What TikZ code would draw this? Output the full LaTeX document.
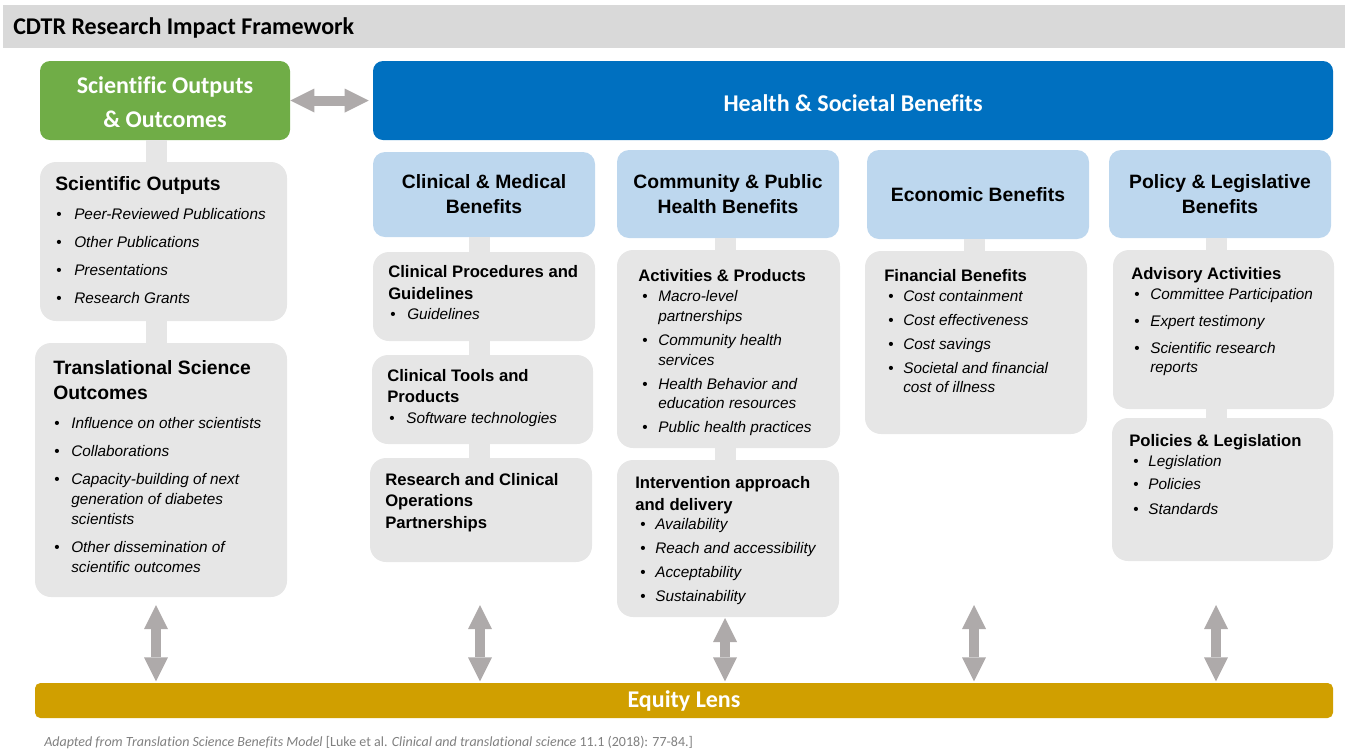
\documentclass[tikz,border=0pt]{standalone}
\usepackage{fontspec}
\setmainfont{Liberation Sans}[Ligatures=NoCommon]
\newfontfamily\calfont{Carlito}[Ligatures=NoCommon]
\usetikzlibrary{arrows.meta}
\definecolor{ttlgray}{HTML}{D9D9D9}
\definecolor{sgreen}{HTML}{70AD47}
\definecolor{hblue}{HTML}{0070C0}
\definecolor{lblue}{HTML}{BDD7EE}
\definecolor{boxgray}{HTML}{E6E6E6}
\definecolor{arw}{HTML}{AEAAAA}
\definecolor{gold}{HTML}{D09F00}
\definecolor{footgray}{HTML}{7F7F7F}
\newcounter{ln}
\newcommand\tline[4]{\stepcounter{ln}\node[tx,#1] (ln\theln) at (#2,#3) {#4};}
\newcommand\bline[4]{\stepcounter{ln}\node[tx,bul] (bu\theln) at (#1,#3) {\textbullet};\node[tx,itm] (ln\theln) at (#2,#3) {#4};}
\begin{document}
\begin{tikzpicture}[x=0.75pt,y=-0.75pt,
  bw/.style={minimum width=#1*0.75pt},
  bh/.style={minimum height=#1*0.75pt},
  gbox/.style={fill=boxgray, rounded corners=12pt, inner sep=0pt},
  lbbox/.style={fill=lblue, rounded corners=9pt, inner sep=0pt, align=center, font=\bfseries\fontsize{14.5}{18.75}\selectfont},
  bar/.style={draw=boxgray, line width=15.75pt},
  biarrow/.style={draw=arw, line width=7.5pt, arrows={Triangle[length=18pt,width=18pt,line width=0pt]-Triangle[length=18pt,width=18pt,line width=0pt]}},
  tx/.style={anchor=base west, inner sep=0pt},
  hd/.style={font=\bfseries\fontsize{14.5}{17}\selectfont},
  sh/.style={font=\bfseries\fontsize{12.5}{15}\selectfont},
  itm/.style={font=\itshape\fontsize{11.5}{14}\selectfont},
  bul/.style={font=\fontsize{11.5}{14}\selectfont},
  wtitle/.style={text=white, font=\calfont\bfseries\fontsize{18}{25.5}\selectfont, align=center}
]
\useasboundingbox (0,0) rectangle (1345,751);

% title bar
\node[fill=ttlgray, inner sep=0pt, bw=1342, bh=43, anchor=north west] (bar) at (3,5) {};
\node[anchor=west, inner sep=0pt, font=\calfont\bfseries\fontsize{18}{20}\selectfont] (title) at (13,28) {CDTR Research Impact Framework};

% column axes
\coordinate (xl) at (156.5,0);
\coordinate (xc) at (479.5,0);
\coordinate (xp) at (725,0);
\coordinate (xe) at (974.5,0);
\coordinate (xq) at (1216.5,0);

% top boxes
\node[fill=sgreen, rounded corners=7.5pt, bw=250, bh=79, inner sep=0pt] (green) at (165,100.5) {};
\node[fill=hblue, rounded corners=7.5pt, bw=960, bh=79, inner sep=0pt] (blue) at (853,100.5) {};

% column header boxes
\node[lbbox, bw=222, bh=85] (cm) at (484,194.5) {Clinical \& Medical\\Benefits};
\node[lbbox, bw=222, bh=88] (cp) at (728,194) {Community \& Public\\Health Benefits};
\node[lbbox, bw=222, bh=89] (eb) at (978,194.5) {Economic Benefits};
\node[lbbox, bw=222, bh=88] (pl) at (1220,194) {Policy \& Legislative\\Benefits};

% gray boxes
\node[gbox, bw=247, bh=159] (so) at (163.5,241.5) {};
\node[gbox, bw=252, bh=254] (tr) at (161,470) {};
\node[gbox, bw=222, bh=89] (c1) at (484,296.5) {};
\node[gbox, bw=221, bh=89] (c2) at (482.5,399.5) {};
\node[gbox, bw=222, bh=104] (c3) at (481,510) {};
\node[gbox, bw=223, bh=198] (p1) at (728.5,349) {};
\node[gbox, bw=222, bh=157] (p2) at (728,538.5) {};
\node[gbox, bw=222, bh=183] (e1) at (976,342.5) {};
\node[gbox, bw=221, bh=159] (l1) at (1223.5,329.5) {};
\node[gbox, bw=221, bh=143] (l2) at (1222.5,489.5) {};

% connector bars
\draw[bar] (green.south -| xl) -- (so.north -| xl);
\draw[bar] (so.south -| xl) -- (tr.north -| xl);
\draw[bar] (cm.south -| xc) -- (c1.north -| xc);
\draw[bar] (c1.south -| xc) -- (c2.north -| xc);
\draw[bar] (c2.south -| xc) -- (c3.north -| xc);
\draw[bar] (cp.south -| xp) -- (p1.north -| xp);
\draw[bar] (p1.south -| xp) -- (p2.north -| xp);
\draw[bar] (eb.south -| xe) -- (e1.north -| xe);
\draw[bar] (pl.south -| xq) -- (l1.north -| xq);
\draw[bar] (l1.south -| xq) -- (l2.north -| xq);

% titles in colored boxes
\node[wtitle] (gt) at (165,102) {Scientific Outputs\\\& Outcomes};
\node[wtitle] (bt) at (853,103) {Health \& Societal Benefits};

% equity lens
\node[fill=gold, rounded corners=4pt, bw=1298, bh=35, inner sep=0pt] (equity) at (684,700.5) {};
\node[wtitle] (et) at (684,701) {Equity Lens};

% arrows
\draw[biarrow, shorten >=3pt] (green.east) -- (green.east -| blue.west);
\coordinate (a1) at (156,605);
\coordinate (a2) at (480,605);
\coordinate (a3) at (725,618);
\coordinate (a4) at (974,605);
\coordinate (a5) at (1216,605);
\foreach \a in {a1,a2,a3,a4,a5}
  \draw[biarrow, shorten >=1pt] (\a) -- (\a |- equity.north);

% left column text
\tline{hd}{55}{190}{Scientific Outputs}
\bline{56}{74}{219}{Peer-Reviewed Publications}
\bline{56}{74}{247}{Other Publications}
\bline{56}{74}{275}{Presentations}
\bline{56}{74}{303}{Research Grants}

\tline{hd}{53}{374}{Translational Science}
\tline{hd}{53}{399}{Outcomes}
\bline{54}{71}{428}{Influence on other scientists}
\bline{54}{71}{456}{Collaborations}
\bline{54}{71}{484}{Capacity-building of next}
\tline{itm}{71}{504}{generation of diabetes}
\tline{itm}{71}{524}{scientists}
\bline{54}{71}{552}{Other dissemination of}
\tline{itm}{71}{572}{scientific outcomes}

% clinical column
\tline{sh}{388}{277}{Clinical Procedures and}
\tline{sh}{388}{299}{Guidelines}
\bline{390}{407}{319}{Guidelines}
\tline{sh}{387}{381}{Clinical Tools and}
\tline{sh}{387}{402}{Products}
\bline{389}{406}{423}{Software technologies}
\tline{sh}{385}{485}{Research and Clinical}
\tline{sh}{385}{506}{Operations}
\tline{sh}{385}{528}{Partnerships}

% community column
\tline{sh}{638}{281}{Activities \& Products}
\bline{642}{658}{301}{Macro-level}
\tline{itm}{658}{321}{partnerships}
\bline{642}{658}{345}{Community health}
\tline{itm}{658}{365}{services}
\bline{642}{658}{389}{Health Behavior and}
\tline{itm}{658}{408}{education resources}
\bline{642}{658}{432}{Public health practices}
\tline{sh}{635}{488}{Intervention approach}
\tline{sh}{635}{510}{and delivery}
\bline{640}{655}{529}{Availability}
\bline{640}{655}{553}{Reach and accessibility}
\bline{640}{655}{577}{Acceptability}
\bline{640}{655}{601}{Sustainability}

% economic column
\tline{sh}{884}{281}{Financial Benefits}
\bline{888}{903}{301}{Cost containment}
\bline{888}{903}{325}{Cost effectiveness}
\bline{888}{903}{349}{Cost savings}
\bline{888}{903}{373}{Societal and financial}
\tline{itm}{903}{392}{cost of illness}

% policy column
\tline{sh}{1131}{279}{Advisory Activities}
\bline{1134}{1150}{299}{Committee Participation}
\bline{1134}{1150}{326}{Expert testimony}
\bline{1134}{1150}{353}{Scientific research}
\tline{itm}{1150}{372}{reports}
\tline{sh}{1129}{446}{Policies \& Legislation}
\bline{1133}{1148}{466}{Legislation}
\bline{1133}{1148}{489}{Policies}
\bline{1133}{1148}{514}{Standards}

% footer
\node[tx, text=footgray, font=\calfont\fontsize{10.5}{12.5}\selectfont] (foot) at (44,746.5) {\itshape Adapted from Translation Science Benefits Model\/\upshape{} [Luke et al. \textit{Clinical and translational science} 11.1 (2018): 77-84.]};
\end{tikzpicture}
\end{document}
